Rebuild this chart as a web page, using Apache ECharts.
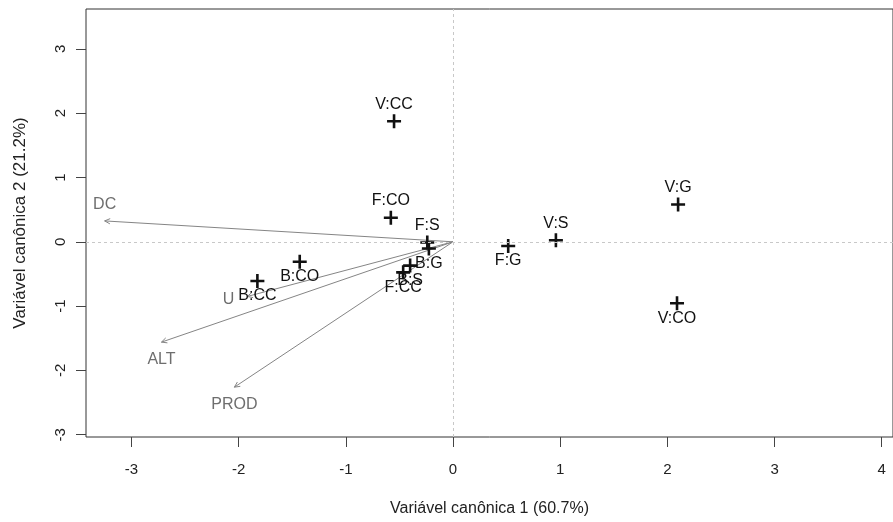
<!DOCTYPE html>
<html>
<head>
<meta charset="utf-8">
<script src="https://cdn.jsdelivr.net/npm/echarts@6/dist/echarts.min.js"></script>
<style>
  html, body { margin: 0; padding: 0; background: #fff; }
  #main { width: 893px; height: 522px; }
</style>
</head>
<body>
<div id="main"></div>
<script>
// pontos (tratamentos)
var pointNames = ['V:CC', 'F:CO', 'F:S', 'B:G', 'B:S', 'F:CC', 'F:G', 'V:S', 'V:G', 'V:CO', 'B:CO', 'B:CC'];
var pointX = [-0.55, -0.58, -0.24, -0.225, -0.40, -0.465, 0.515, 0.96, 2.10, 2.09, -1.43, -1.825];
var pointY = [1.875, 0.375, -0.01, -0.105, -0.37, -0.475, -0.065, 0.025, 0.58, -0.955, -0.31, -0.61];
var namesAbove = ['V:CC', 'F:CO', 'F:S', 'V:S', 'V:G'];

// vetores (variaveis)
var varNames = ['DC', 'U', 'ALT', 'PROD'];
var varX = [-3.25, -1.92, -2.72, -2.04];
var varY = [0.325, -0.85, -1.56, -2.26];
var varLabelSide = ['top', 'left', 'bottom', 'bottom'];

var xTicks = [-3, -2, -1, 0, 1, 2, 3, 4];
var yTicks = [-3, -2, -1, 0, 1, 2, 3];

var FONT = '"Liberation Sans", Arial, sans-serif';

var chartDom = document.getElementById('main');
var myChart = echarts.init(chartDom);

// cruz "+" como no R (pch = 3)
var plus = 'path://M5.7,0H8.3V5.7H14V8.3H8.3V14H5.7V8.3H0V5.7H5.7Z';

var scatterData = pointNames.map(function (n, i) {
  var up = namesAbove.indexOf(n) >= 0;
  return {
    name: n,
    value: [pointX[i], pointY[i]],
    label: { position: up ? 'top' : 'bottom', distance: up ? 2 : 0 }
  };
});

var vecData = varNames.map(function (n, i) {
  return { name: n, value: [varX[i], varY[i], i] };
});

function renderArrow(params, api) {
  var i = api.value(2);
  var p0 = api.coord([0, 0]);
  var p1 = api.coord([api.value(0), api.value(1)]);
  var ang = Math.atan2(p1[1] - p0[1], p1[0] - p0[0]);
  var h = 6, a = Math.PI / 7;
  var hx1 = p1[0] - h * Math.cos(ang - a), hy1 = p1[1] - h * Math.sin(ang - a);
  var hx2 = p1[0] - h * Math.cos(ang + a), hy2 = p1[1] - h * Math.sin(ang + a);
  var side = varLabelSide[i];
  var tx = p1[0], ty = p1[1], align = 'center', valign = 'middle';
  if (side === 'top') { ty -= 16; }
  else if (side === 'bottom') { ty += 17; }
  else if (side === 'left') { tx -= 13; align = 'right'; ty += 3; }
  return {
    type: 'group',
    children: [
      { type: 'line', shape: { x1: p0[0], y1: p0[1], x2: p1[0], y2: p1[1] },
        style: { stroke: '#858585', lineWidth: 1 } },
      { type: 'polyline', shape: { points: [[hx1, hy1], [p1[0], p1[1]], [hx2, hy2]] },
        style: { stroke: '#858585', lineWidth: 1, fill: null } },
      { type: 'text', x: tx, y: ty,
        style: { text: varNames[i], fill: '#6e6e6e', font: '16px ' + FONT, align: align, verticalAlign: valign } }
    ]
  };
}

var option = {
  animation: false,
  backgroundColor: '#fff',
  grid: {
    left: 86, top: 9, width: 812, height: 430,
    show: true, borderColor: '#333', borderWidth: 1, backgroundColor: 'transparent'
  },
  xAxis: {
    type: 'value',
    min: -3.424, max: 4.105,
    name: 'Variável canônica 1 (60.7%)',
    nameLocation: 'middle',
    nameGap: 64,
    nameTextStyle: { fontFamily: FONT, fontSize: 16, color: '#222' },
    axisLine: { show: false, onZero: false },
    axisTick: { show: true, length: 10, lineStyle: { color: '#444' }, customValues: xTicks },
    axisLabel: { fontFamily: FONT, fontSize: 15, color: '#222', margin: 25, customValues: xTicks },
    splitLine: { show: false }
  },
  yAxis: {
    type: 'value',
    min: -3.035, max: 3.62,
    name: 'Variável canônica 2 (21.2%)',
    nameLocation: 'middle',
    nameGap: 57,
    nameTextStyle: { fontFamily: FONT, fontSize: 17, color: '#222' },
    axisLine: { show: false, onZero: false },
    axisTick: { show: true, length: 10, lineStyle: { color: '#444' }, customValues: yTicks },
    axisLabel: { fontFamily: FONT, fontSize: 15, color: '#222', margin: 18, rotate: 90, customValues: yTicks },
    splitLine: { show: false }
  },
  series: [
    {
      type: 'custom',
      renderItem: renderArrow,
      data: vecData,
      silent: true,
      z: 2,
      markLine: {
        silent: true,
        symbol: ['none', 'none'],
        label: { show: false },
        lineStyle: { color: '#c8c8c8', type: [3, 3], width: 1 },
        data: [{ xAxis: 0 }, { yAxis: 0 }]
      }
    },
    {
      type: 'scatter',
      symbol: plus,
      symbolSize: 14,
      itemStyle: { color: '#111', opacity: 1 },
      label: { show: true, formatter: '{b}', fontFamily: FONT, fontSize: 16, color: '#111' },
      data: scatterData,
      z: 3
    }
  ]
};

option && myChart.setOption(option);
</script>
</body>
</html>
